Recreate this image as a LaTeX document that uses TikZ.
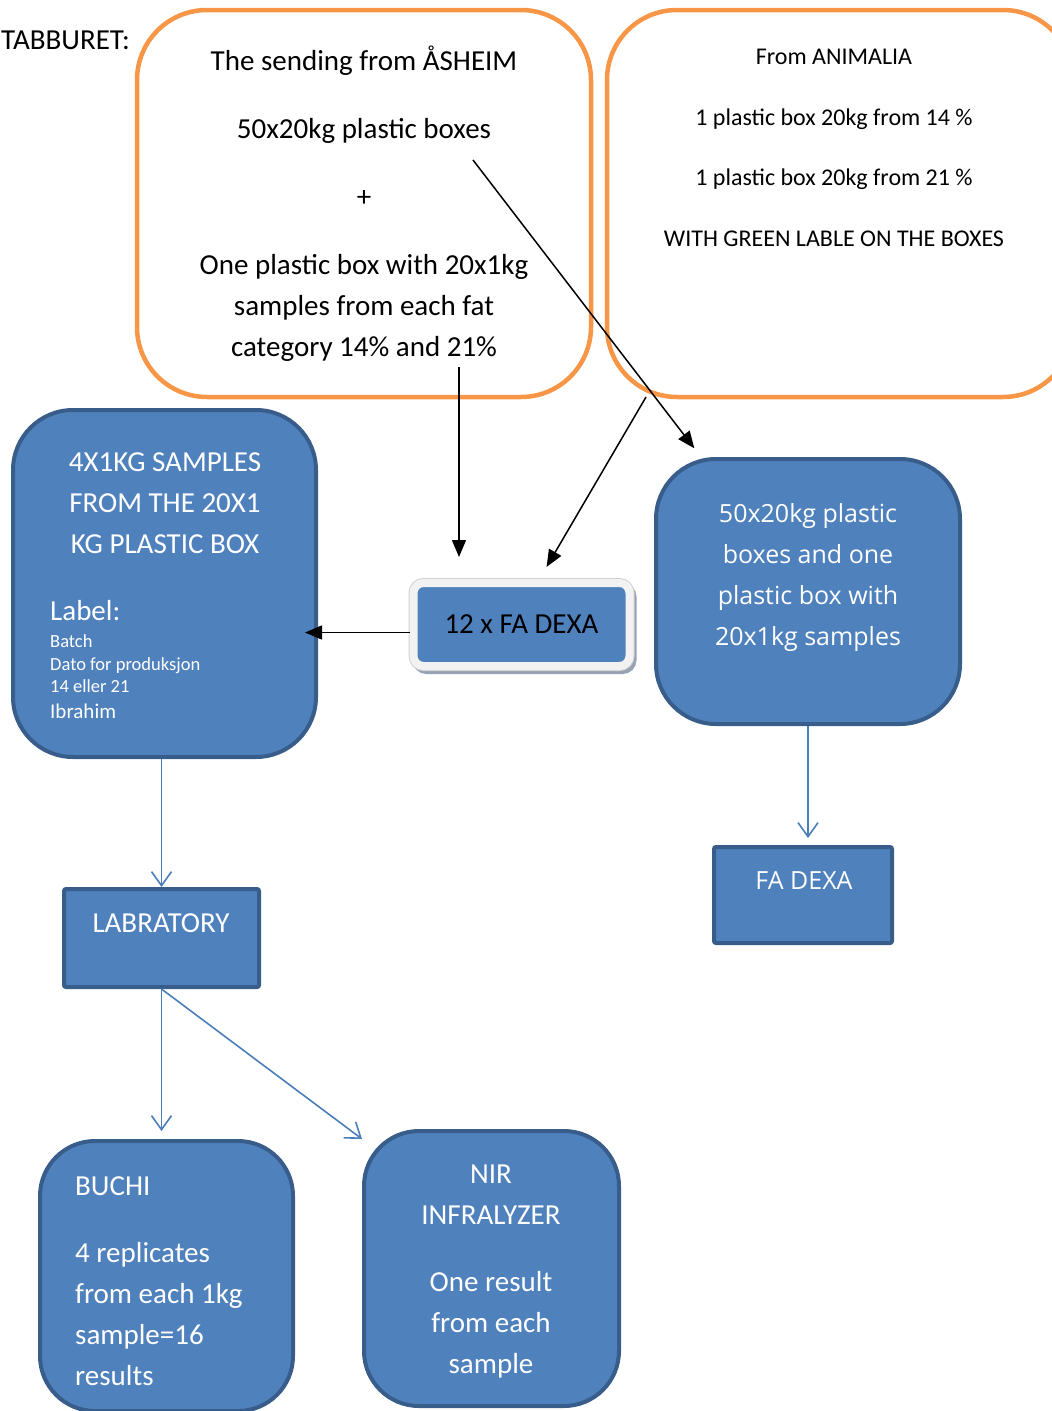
\documentclass[tikz,border=0pt]{standalone}
\usepackage{fontspec}
\setmainfont{Carlito}
\newfontfamily\boxfont{Open Sans}
\usetikzlibrary{arrows.meta,shadows}
\definecolor{orangeline}{HTML}{F79646}
\definecolor{bluefill}{HTML}{4F81BD}
\definecolor{blueedge}{HTML}{385D8A}
\definecolor{arrowblue}{HTML}{4A7EBB}
\definecolor{shadowgray}{HTML}{97A3B4}
\definecolor{framewhite}{HTML}{F2F2F2}
\tikzset{
  orangebox/.style={draw=orangeline, line width=4.5pt, rounded corners=70pt, inner sep=0pt},
  bluebox/.style={draw=blueedge, fill=bluefill, line width=4pt, inner sep=0pt},
  whitetext/.style={text=white, inner sep=0pt, align=center, font=\fontsize{29}{41}\selectfont},
  blackarrow/.style={line width=1.5pt, -{Triangle[length=17pt,width=14pt]}},
  bluearrow/.style={draw=arrowblue, line width=1.6pt, -{Straight Barb[length=14pt,width=20pt]}}
}
\begin{document}
\begin{tikzpicture}[x=1pt, y=-1pt]
\useasboundingbox (0,0) rectangle (1052,1411);
\node[right, inner sep=0pt, font=\fontsize{29}{34}\selectfont] (stool) at (1,40) {TABBURET:};
\node[orangebox, minimum width=454pt, minimum height=387pt, align=center, font=\fontsize{29}{41}\selectfont] (send) at (364,203.5) {The sending from ÅSHEIM\\[27pt]50x20kg plastic boxes\\[27pt]+\\[27pt]One plastic box with 20x1kg\\samples from each fat\\category 14\% and 21\%};
\node[orangebox, minimum width=466pt, minimum height=387pt] (animalia) at (840,203.5) {};
\node[inner sep=0pt, align=center, font=\fontsize{24}{60.5}\selectfont] (animaliatext) at (834,148) {From ANIMALIA\\1 plastic box 20kg from 14 \%\\1 plastic box 20kg from 21 \%\\WITH GREEN LABLE ON THE BOXES};
\node[bluebox, rounded corners=60pt, minimum width=303pt, minimum height=347pt] (samples) at (164.5,583.5) {};
\node[whitetext] (samplestext) at (165,503) {4X1KG SAMPLES\\FROM THE 20X1\\KG PLASTIC BOX};
\node[right, inner sep=0pt, text=white, font=\fontsize{29}{34}\selectfont] (label) at (50,611) {Label:};
\node[right, inner sep=0pt, text=white, align=left, font=\fontsize{18.5}{22.5}\selectfont] (labeldata) at (50,664) {Batch\\Dato for produksjon\\14 eller 21};
\node[right, inner sep=0pt, text=white, font=\fontsize{21}{25}\selectfont] (owner) at (50,711) {Ibrahim};
\node[draw=framewhite, line width=8pt, fill=bluefill, rounded corners=10pt, minimum width=216pt, minimum height=83pt,
  drop shadow={shadow xshift=3pt, shadow yshift=-4pt, fill=shadowgray, draw=shadowgray, line width=8pt, opacity=1},
  preaction={draw=black!18, line width=10pt}, font=\fontsize{29}{34}\selectfont] (dexa12) at (521.5,624.5) {12 x FA DEXA};
\node[bluebox, rounded corners=60pt, minimum width=304pt, minimum height=265pt] (bulk) at (808,591.5) {};
\node[whitetext, font=\boxfont\fontsize{25}{41}\selectfont] (bulktext) at (808,577) {50x20kg plastic\\boxes and one\\plastic box with\\20x1kg samples};
\node[bluebox, rounded corners=2pt, minimum width=178pt, minimum height=96pt] (fadexa) at (803,895) {};
\node[whitetext, font=\boxfont\fontsize{25}{30}\selectfont] (fadexatext) at (804,881) {FA DEXA};
\node[bluebox, rounded corners=2pt, minimum width=195pt, minimum height=98pt] (lab) at (161.5,938) {};
\node[whitetext] (labtext) at (161,923) {LABRATORY};
\node[bluebox, rounded corners=55pt, minimum width=253pt, minimum height=270pt] (buchi) at (166.5,1276) {};
\node[right, whitetext, align=left] (buchitext) at (75,1281.5) {BUCHI\\[26pt]4 replicates\\from each 1kg\\sample=16\\results};
\node[bluebox, rounded corners=55pt, minimum width=255pt, minimum height=275pt] (nir) at (491.5,1268.5) {};
\node[whitetext] (nirtext) at (491,1272) {NIR\\INFRALYZER\\[26pt]One result\\from each\\sample};
\coordinate (sendtail) at (473,160);
\coordinate (sendfoot) at (459,367);
\coordinate (animfoot) at (646,397);
\draw[blackarrow, shorten >=11pt] (sendtail) -- ([xshift=-107pt]bulk.north);
\draw[blackarrow, shorten >=22pt] (sendfoot) -- (sendfoot |- dexa12.north);
\draw[blackarrow, shorten >=14pt] (animfoot) -- ([xshift=18pt]dexa12.north);
\draw[blackarrow, shorten >=-13pt] ([yshift=-8pt]dexa12.west) -- ([yshift=-8pt]dexa12.west -| samples.east);
\draw[bluearrow] (lab.north |- samples.south) -- (lab.north);
\draw[bluearrow, shorten >=7pt] (bulk.south) -- (bulk.south |- fadexa.north);
\draw[bluearrow, shorten >=8pt] (lab.south) -- (lab.south |- buchi.north);
\draw[bluearrow] (lab.south) -- ([yshift=-10pt]nir.north west);
\end{tikzpicture}
\end{document}
